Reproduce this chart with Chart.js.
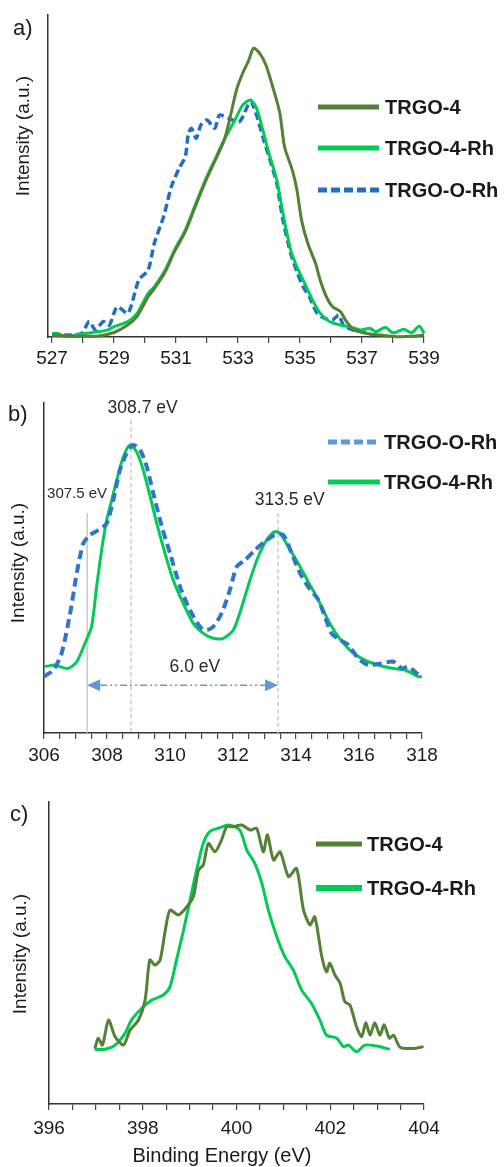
<!DOCTYPE html>
<html>
<head>
<meta charset="utf-8">
<script src="https://cdn.jsdelivr.net/npm/chart.js@4.4.0/dist/chart.umd.min.js"></script>
<style>
    html, body { margin: 0; padding: 0; background: #fff; }
    body { width: 504px; height: 1167px; position: relative; overflow: hidden; }
    .panel { position: absolute; left: 0; width: 504px; }
</style>
</head>
<body>
<div class="panel" style="top:0;height:380px"><canvas id="o1sCanvas"></canvas></div>
<div class="panel" style="top:380px;height:395px"><canvas id="rh3dCanvas"></canvas></div>
<div class="panel" style="top:775px;height:392px"><canvas id="n1sCanvas"></canvas></div>

<script>
// a) O 1s  (binding energy in eV, intensity in a.u.)
const o1sEnergy4 = [527.0, 527.5, 528.0, 528.5, 529.0, 529.45, 529.75, 530.1, 530.3, 530.65, 530.95, 531.3, 531.6, 531.95, 532.25, 532.55, 532.75, 532.95, 533.15, 533.35, 533.5, 533.7, 533.9, 534.15, 534.35, 534.5, 534.75, 534.9, 535.05, 535.25, 535.5, 535.65, 535.85, 536.05, 536.3, 536.5, 536.75, 537.15, 537.6, 538.1, 538.6, 539.0];
const o1sTrgo4 = [0.6, 0.3, 0.2, 0.3, 1.4, 3.8, 6.5, 12.5, 15.0, 20.2, 26.5, 32.7, 40.0, 48.3, 54.6, 61.0, 68.4, 76.7, 81.9, 86.0, 89.7, 88.1, 84.5, 76.7, 69.5, 59.1, 51.9, 45.7, 36.3, 29.1, 22.9, 17.7, 12.5, 9.4, 7.9, 4.8, 2.2, 1.1, 0.6, 0.1, 0.2, 0.6];

const o1sEnergy4Rh = [527.0, 527.2, 527.4, 527.75, 528.05, 528.5, 528.8, 529.0, 529.45, 529.75, 530.1, 530.3, 530.65, 530.95, 531.3, 531.6, 531.95, 532.25, 532.55, 532.9, 533.15, 533.4, 533.6, 533.8, 534.0, 534.25, 534.45, 534.7, 534.9, 535.1, 535.4, 535.65, 535.95, 536.3, 536.6, 536.95, 537.25, 537.45, 537.75, 538.0, 538.35, 538.6, 538.85, 539.0];
const o1sTrgo4Rh = [1.1, 1.1, 0.1, 0.6, 1.1, 1.6, 2.2, 3.2, 4.8, 7.4, 13.6, 15.6, 20.8, 27.0, 33.2, 40.5, 48.8, 55.0, 61.2, 67.4, 72.0, 73.6, 71.0, 64.3, 57.0, 48.8, 38.4, 27.0, 21.8, 17.7, 11.5, 7.4, 4.8, 3.7, 3.2, 2.2, 2.7, 1.6, 3.0, 1.3, 2.4, 1.3, 3.4, 1.1];

const o1sEnergyORh = [527.0, 527.5, 527.95, 528.2, 528.4, 528.65, 528.85, 529.1, 529.45, 529.8, 530.1, 530.3, 530.6, 530.85, 531.1, 531.3, 531.4, 531.5, 531.65, 531.8, 532.0, 532.25, 532.4, 532.7, 533.05, 533.4, 533.6, 533.8, 534.0, 534.25, 534.45, 534.7, 534.9, 535.1, 535.3, 535.55, 535.8, 536.05, 536.25, 536.4, 536.7, 537.05, 537.3];
const o1sTrgoORh = [0.6, 0.6, 1.1, 4.8, 2.2, 4.8, 3.7, 9.4, 7.4, 17.7, 20.8, 29.1, 37.4, 46.7, 52.4, 56.0, 63.3, 64.8, 61.7, 65.8, 67.4, 64.8, 68.9, 67.9, 66.9, 73.1, 68.9, 62.2, 56.0, 47.7, 36.3, 26.0, 20.3, 15.6, 12.5, 7.4, 5.8, 5.3, 6.8, 3.7, 2.2, 1.6, 0.1];

const o1sTicks = [527, 528, 529, 530, 531, 532, 533, 534, 535, 536, 537, 538, 539];
const o1sTickLabels = [527, 529, 531, 533, 535, 537, 539];

// b) Rh 3d
const rh3dEnergyORh = [306.0, 306.3, 306.56, 306.83, 307.04, 307.25, 307.46, 307.72, 307.99, 308.2, 308.41, 308.62, 308.83, 309.05, 309.26, 309.47, 309.74, 310.0, 310.32, 310.63, 310.95, 311.16, 311.37, 311.64, 311.9, 312.12, 312.38, 312.7, 313.02, 313.33, 313.6, 313.86, 314.13, 314.39, 314.71, 314.92, 315.13, 315.4, 315.66, 315.98, 316.3, 316.72, 317.09, 317.36, 317.57, 317.83, 318.0];
const rh3dTrgoORh = [17.1, 19.1, 24.2, 36.3, 48.4, 57.5, 60.0, 61.5, 63.5, 70.6, 79.7, 84.7, 87.3, 85.8, 80.7, 72.6, 62.5, 54.5, 44.3, 37.3, 32.2, 31.2, 32.2, 36.3, 43.3, 50.4, 52.4, 55.5, 58.0, 60.0, 60.0, 54.5, 48.4, 44.3, 40.3, 35.2, 30.2, 28.2, 26.7, 22.6, 20.6, 21.1, 21.6, 19.6, 20.1, 18.1, 17.1];

const rh3dEnergy4Rh = [306.0, 306.35, 306.5, 306.77, 307.04, 307.3, 307.51, 307.67, 307.83, 307.99, 308.15, 308.31, 308.52, 308.73, 308.94, 309.15, 309.37, 309.58, 309.84, 310.1, 310.42, 310.74, 311.06, 311.37, 311.69, 312.01, 312.28, 312.54, 312.8, 313.07, 313.33, 313.49, 313.75, 314.07, 314.39, 314.71, 315.02, 315.34, 315.77, 316.19, 316.61, 317.04, 317.46, 317.88, 318.0];
const rh3dTrgo4Rh = [20.1, 20.6, 20.1, 19.6, 21.6, 27.2, 32.2, 44.3, 55.5, 64.5, 70.6, 76.7, 83.7, 87.3, 85.2, 79.7, 71.6, 63.5, 54.5, 46.4, 39.3, 33.2, 30.2, 28.7, 28.7, 31.2, 38.3, 46.4, 53.4, 58.5, 61.0, 60.5, 56.5, 51.4, 45.8, 40.3, 34.2, 29.2, 24.6, 22.1, 20.6, 19.6, 19.1, 17.1, 17.0];

const rh3dTicks = [306, 306.5, 307, 307.5, 308, 308.5, 309, 309.5, 310, 310.5, 311, 311.5, 312, 312.5, 313, 313.5, 314, 314.5, 315, 315.5, 316, 316.5, 317, 317.5, 318];
const rh3dTickLabels = [306, 308, 310, 312, 314, 316, 318];

// peak guides and labels in b)
const rh3dGuideEnergy = [307.37, 308.76, 313.43];
const rh3dGuideTop = [66.7, 94.8, 66.7];
const rh3dNoteText = ['307.5 eV', '308.7 eV', '313.5 eV', '6.0 eV'];
const rh3dNoteEnergy = [307.05, 309.13, 313.8, 310.79];
const rh3dNoteLevel = [72.4, 98.5, 70.6, 20.0];
const rh3dSplitting = [307.37, 313.43];
const rh3dSplitLevel = 14.5;

// c) N 1s
const n1sEnergy4 = [396.98, 397.05, 397.14, 397.27, 397.41, 397.59, 397.73, 397.91, 398.05, 398.15, 398.26, 398.37, 398.47, 398.58, 398.76, 398.94, 399.08, 399.19, 399.29, 399.4, 399.54, 399.68, 399.79, 399.93, 400.11, 400.29, 400.43, 400.57, 400.66, 400.79, 400.93, 401.11, 401.28, 401.43, 401.57, 401.67, 401.82, 401.92, 401.99, 402.1, 402.21, 402.31, 402.42, 402.56, 402.67, 402.76, 402.85, 402.95, 403.06, 403.15, 403.26, 403.35, 403.49, 403.77, 403.99];
const n1sTrgo4 = [18.4, 21.8, 19.5, 27.8, 22.3, 19.5, 24.5, 27.8, 34.4, 47.7, 46.0, 47.7, 56.5, 64.2, 62.6, 65.3, 68.7, 77.5, 79.1, 86.3, 83.5, 87.4, 91.8, 91.8, 92.4, 90.7, 91.3, 83.5, 89.1, 80.8, 83.5, 75.3, 78.0, 64.2, 59.3, 62.0, 48.8, 43.8, 46.6, 42.7, 40.0, 33.9, 32.8, 25.6, 22.3, 26.9, 22.8, 26.9, 22.8, 26.2, 21.8, 22.8, 18.8, 18.4, 19.0];

const n1sEnergy4Rh = [396.97, 397.19, 397.41, 397.62, 397.76, 397.98, 398.19, 398.44, 398.58, 398.72, 398.87, 399.01, 399.15, 399.29, 399.43, 399.61, 399.83, 400.07, 400.22, 400.39, 400.54, 400.68, 400.86, 401.03, 401.21, 401.39, 401.6, 401.78, 401.92, 402.14, 402.28, 402.39, 402.56, 402.74, 402.99, 403.27];
const n1sTrgo4Rh = [18.1, 18.1, 19.5, 23.4, 27.8, 31.7, 34.4, 36.1, 38.8, 47.7, 57.6, 67.5, 77.5, 86.3, 90.2, 91.3, 92.4, 90.7, 84.1, 79.7, 73.1, 64.2, 55.4, 48.8, 44.4, 37.7, 33.3, 27.8, 22.8, 21.8, 19.0, 19.5, 17.3, 19.5, 19.2, 18.1];

const n1sTicks = [396, 396.5, 397, 397.5, 398, 398.5, 399, 399.5, 400, 400.5, 401, 401.5, 402, 402.5, 403, 403.5, 404];
const n1sTickLabels = [396, 398, 400, 402, 404];

// colours
const darkGreen = '#538135';
const lightGreen = '#00cc55';
const blueA = '#1f6fc6';
const blueB = '#2f76c9';
const blueLight = '#5b9bd5';
const FONT = '"Liberation Sans", Arial, sans-serif';
const INK = '#1a1a1a';

function pairs(xs, ys) {
    return xs.map((x, i) => ({ x: x, y: ys[i] }));
}

function line(label, xs, ys, color, width, dash) {
    return {
        label: label,
        data: pairs(xs, ys),
        borderColor: color,
        borderWidth: width,
        borderDash: dash || [],
        pointRadius: 0,
        tension: 0.25,
        fill: false,
        clip: false
    };
}

function xAxis(min, max, ticks, labels, height, pad) {
    return {
        type: 'linear',
        min: min,
        max: max,
        afterBuildTicks: (scale) => { scale.ticks = ticks.map(v => ({ value: v })); },
        afterFit: (scale) => { scale.height = height; },
        border: { display: true, color: '#333', width: 1.5 },
        grid: { display: true, drawOnChartArea: false, drawTicks: true, tickLength: 6, color: '#444', lineWidth: 1.2 },
        ticks: {
            autoSkip: false,
            maxRotation: 0,
            minRotation: 0,
            padding: pad,
            color: '#1a1a1a',
            font: { family: FONT, size: 19 },
            callback: (v) => labels.includes(v) ? String(v) : ''
        }
    };
}

function yAxis(width) {
    return {
        min: 0,
        max: 100,
        afterFit: (scale) => { scale.width = width; },
        border: { display: true, color: '#333', width: 1.5 },
        grid: { display: false },
        ticks: { display: false }
    };
}

// texts, legend and guides drawn on top of the chart
function decor(spec) {
    return {
        id: 'decor',
        beforeDatasetsDraw(chart) {
            const { ctx, scales: { x, y } } = chart;
            ctx.save();
            (spec.guides || []).forEach(g => {
                const px = x.getPixelForValue(g.x);
                ctx.strokeStyle = '#c8c8c8';
                ctx.lineWidth = 1.5;
                ctx.setLineDash(g.dash);
                ctx.beginPath();
                ctx.moveTo(px, y.getPixelForValue(g.top));
                ctx.lineTo(px, y.getPixelForValue(0));
                ctx.stroke();
            });
            if (spec.arrow) {
                const a = spec.arrow;
                const x1 = x.getPixelForValue(a.from);
                const x2 = x.getPixelForValue(a.to);
                const py = y.getPixelForValue(a.level);
                const head = 13;
                ctx.strokeStyle = blueLight;
                ctx.fillStyle = blueLight;
                ctx.lineWidth = 1.5;
                ctx.setLineDash([7, 3, 2, 3, 2, 3]);
                ctx.beginPath();
                ctx.moveTo(x1 + head, py);
                ctx.lineTo(x2 - head, py);
                ctx.stroke();
                ctx.setLineDash([]);
                ctx.beginPath();
                ctx.moveTo(x1, py);
                ctx.lineTo(x1 + head, py - 6);
                ctx.lineTo(x1 + head, py + 6);
                ctx.closePath();
                ctx.fill();
                ctx.beginPath();
                ctx.moveTo(x2, py);
                ctx.lineTo(x2 - head, py - 6);
                ctx.lineTo(x2 - head, py + 6);
                ctx.closePath();
                ctx.fill();
            }
            ctx.restore();
        },
        afterDraw(chart) {
            const { ctx, scales: { x, y } } = chart;
            ctx.save();
            ctx.fillStyle = INK;
            ctx.textBaseline = 'middle';

            // panel letter
            ctx.font = '22px ' + FONT;
            ctx.textAlign = 'left';
            ctx.fillText(spec.letter.text, spec.letter.x, spec.letter.y);

            // y title
            ctx.save();
            ctx.translate(spec.yTitle.x, spec.yTitle.y);
            ctx.rotate(-Math.PI / 2);
            ctx.textAlign = 'center';
            ctx.font = '19px ' + FONT;
            ctx.fillText('Intensity (a.u.)', 0, 0);
            ctx.restore();

            // x title
            if (spec.xTitle) {
                ctx.textAlign = 'center';
                ctx.font = '20px ' + FONT;
                ctx.fillText('Binding Energy (eV)', spec.xTitle.x, spec.xTitle.y);
            }

            // notes placed at energy / intensity positions
            (spec.notes || []).forEach(n => {
                ctx.textAlign = 'center';
                ctx.font = n.size + 'px ' + FONT;
                ctx.fillStyle = '#2a2a2a';
                ctx.fillText(n.text, x.getPixelForValue(n.x), y.getPixelForValue(n.y));
            });

            // legend
            const lg = spec.legend;
            lg.items.forEach((item, i) => {
                const py = lg.y[i];
                ctx.strokeStyle = item.color;
                ctx.lineWidth = item.width;
                ctx.setLineDash(item.dash || []);
                ctx.beginPath();
                ctx.moveTo(lg.x1, py);
                ctx.lineTo(lg.x2, py);
                ctx.stroke();
                ctx.setLineDash([]);
                ctx.fillStyle = INK;
                ctx.textAlign = 'left';
                ctx.font = 'bold 20px ' + FONT;
                ctx.fillText(item.label, lg.textX, py + 1);
            });
            ctx.restore();
        }
    };
}

const baseOptions = {
    responsive: true,
    maintainAspectRatio: false,
    animation: false,
    devicePixelRatio: 1,
    events: [],
    plugins: { legend: { display: false }, tooltip: { enabled: false } }
};

// a) O 1s
new Chart(document.getElementById('o1sCanvas').getContext('2d'), {
    type: 'line',
    data: {
        datasets: [
            line('TRGO-4', o1sEnergy4, o1sTrgo4, darkGreen, 3),
            line('TRGO-4-Rh', o1sEnergy4Rh, o1sTrgo4Rh, lightGreen, 3),
            line('TRGO-O-Rh', o1sEnergyORh, o1sTrgoORh, blueA, 3.5, [8, 4])
        ]
    },
    options: Object.assign({}, baseOptions, {
        layout: { padding: { left: 0, right: 80, top: 15, bottom: 0 } },
        scales: {
            x: xAxis(526.87, 539, o1sTicks, o1sTickLabels, 43, 4),
            y: yAxis(48)
        }
    }),
    plugins: [decor({
        letter: { text: 'a)', x: 13, y: 29 },
        yTitle: { x: 24, y: 136 },
        legend: {
            x1: 318, x2: 379, textX: 385, y: [107, 148, 190],
            items: [
                { label: 'TRGO-4', color: darkGreen, width: 5 },
                { label: 'TRGO-4-Rh', color: lightGreen, width: 5 },
                { label: 'TRGO-O-Rh', color: blueA, width: 5, dash: [9, 4] }
            ]
        }
    })]
});

// b) Rh 3d
new Chart(document.getElementById('rh3dCanvas').getContext('2d'), {
    type: 'line',
    data: {
        datasets: [
            line('TRGO-O-Rh', rh3dEnergyORh, rh3dTrgoORh, blueB, 4, [9, 5]),
            line('TRGO-4-Rh', rh3dEnergy4Rh, rh3dTrgo4Rh, lightGreen, 3)
        ]
    },
    options: Object.assign({}, baseOptions, {
        layout: { padding: { left: 0, right: 82, top: 23, bottom: 0 } },
        scales: {
            x: xAxis(306, 318, rh3dTicks, rh3dTickLabels, 42, 5),
            y: yAxis(44)
        }
    }),
    plugins: [decor({
        letter: { text: 'b)', x: 8, y: 35 },
        yTitle: { x: 19, y: 183 },
        guides: rh3dGuideEnergy.map((e, i) => ({ x: e, top: rh3dGuideTop[i], dash: i === 0 ? [] : [4, 3] })),
        arrow: { from: rh3dSplitting[0], to: rh3dSplitting[1], level: rh3dSplitLevel },
        notes: rh3dNoteText.map((t, i) => ({ text: t, x: rh3dNoteEnergy[i], y: rh3dNoteLevel[i], size: i === 0 ? 15 : 17.5 })),
        legend: {
            x1: 328, x2: 380, textX: 384, y: [62, 102],
            items: [
                { label: 'TRGO-O-Rh', color: blueLight, width: 5, dash: [9, 4] },
                { label: 'TRGO-4-Rh', color: lightGreen, width: 5 }
            ]
        }
    })]
});

// c) N 1s
new Chart(document.getElementById('n1sCanvas').getContext('2d'), {
    type: 'line',
    data: {
        datasets: [
            line('TRGO-4', n1sEnergy4, n1sTrgo4, darkGreen, 3),
            line('TRGO-4-Rh', n1sEnergy4Rh, n1sTrgo4Rh, lightGreen, 3)
        ]
    },
    options: Object.assign({}, baseOptions, {
        layout: { padding: { left: 0, right: 80, top: 27, bottom: 0 } },
        scales: {
            x: xAxis(396, 404, n1sTicks, n1sTickLabels, 63, 7),
            y: yAxis(49)
        }
    }),
    plugins: [decor({
        letter: { text: 'c)', x: 10, y: 40 },
        yTitle: { x: 21, y: 179 },
        xTitle: { x: 222, y: 381 },
        legend: {
            x1: 316, x2: 362, textX: 367, y: [69, 113],
            items: [
                { label: 'TRGO-4', color: darkGreen, width: 5 },
                { label: 'TRGO-4-Rh', color: lightGreen, width: 6 }
            ]
        }
    })]
});
</script>
</body>
</html>
